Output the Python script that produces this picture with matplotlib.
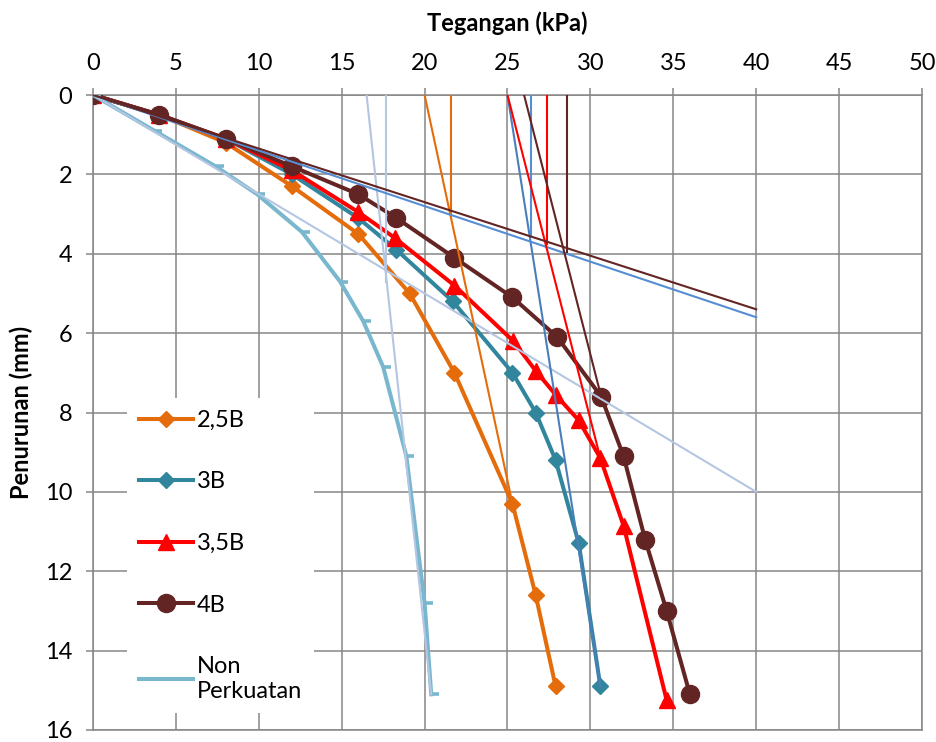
import matplotlib
matplotlib.use("Agg")
import matplotlib.pyplot as plt
from matplotlib.lines import Line2D
from matplotlib.path import Path

plt.rcParams['font.family'] = ['Lato', 'DejaVu Sans']

# tegangan (kPa) vs penurunan (mm)
x_25b = [0, 4, 8, 12, 16, 19.1, 21.8, 25.3, 26.7, 27.9]
y_25b = [0, 0.5, 1.2, 2.3, 3.5, 5.0, 7.0, 10.3, 12.6, 14.9]

x_3b = [0, 4, 8, 12, 16, 18.3, 21.7, 25.3, 26.7, 27.9, 29.3, 30.6]
y_3b = [0, 0.5, 1.1, 2.0, 3.1, 3.9, 5.2, 7.0, 8.0, 9.2, 11.3, 14.9]

x_35b = [0, 4, 8, 12, 16, 18.2, 21.8, 25.35, 26.7, 27.9, 29.3, 30.6, 32.0, 34.6]
y_35b = [0, 0.5, 1.1, 1.9, 2.95, 3.6, 4.8, 6.2, 6.95, 7.55, 8.2, 9.15, 10.85, 15.25]

x_4b = [0, 4, 8, 12, 16, 18.3, 21.8, 25.3, 28.0, 30.65, 32.0, 33.3, 34.6, 36.0]
y_4b = [0, 0.5, 1.1, 1.8, 2.5, 3.1, 4.1, 5.1, 6.1, 7.6, 9.1, 11.2, 13.0, 15.1]

x_non = [0, 3.7, 7.4, 9.9, 12.6, 14.9, 16.3, 17.5, 18.9, 20.0, 20.4]
y_non = [0, 0.9, 1.8, 2.5, 3.45, 4.7, 5.7, 6.85, 9.1, 12.8, 15.1]

# garis singgung (x0, y0, x1, y1)
tangents = [
    ((0, 0, 40, 10), '#b4c6e2'),
    ((16.5, 0, 20.4, 15.1), '#b4c6e2'),
    ((17.7, 0, 17.7, 4.7), '#b4c6e2'),
    ((20.0, 0, 25.3, 10.3), '#e46c0a'),
    ((21.6, 0, 21.6, 3.05), '#e46c0a'),
    ((25.0, 0, 30.6, 14.9), '#4a7ebb'),
    ((26.4, 0, 26.4, 3.55), '#558ed5'),
    ((0, 0, 40, 5.6), '#558ed5'),
    ((25.0, 0, 30.6, 9.15), '#ff0000'),
    ((27.4, 0, 27.4, 3.75), '#ff0000'),
    ((26.0, 0, 30.65, 7.6), '#632523'),
    ((28.6, 0, 28.6, 3.95), '#632523'),
    ((0, 0, 40, 5.4), '#632523'),
]

fs = 17

fig = plt.figure(figsize=(9.37, 7.42), dpi=100)
ax = fig.add_axes([93 / 937, 12 / 742, 829 / 937, 635 / 742])

lw = 2.9
ax.plot(x_25b, y_25b, color='#e46c0a', lw=lw, marker='D', ms=8.5, zorder=3)
ax.plot(x_3b, y_3b, color='#31859c', lw=lw, marker='D', ms=8.5, zorder=3)
ax.plot(x_35b, y_35b, color='#ff0000', lw=lw, marker='^', ms=11.5, zorder=3)
ax.plot(x_4b, y_4b, color='#632523', lw=lw, marker='o', ms=13, zorder=3)

dash = Path([(0, 0), (1, 0)], [Path.MOVETO, Path.LINETO])
ax.plot(x_non, y_non, color='#78b7cd', lw=lw, marker=dash, ms=12,
        mew=2.6, zorder=3)

for (x0, y0, x1, y1), c in tangents:
    ax.plot([x0, x1], [y0, y1], color=c, lw=1.5, zorder=4)

ax.set_xlim(0, 50)
ax.set_ylim(16, 0)
ax.set_xticks(range(0, 51, 5))
ax.set_yticks(range(0, 17, 2))
ax.xaxis.tick_top()
ax.xaxis.set_label_position('top')
ax.grid(True, color='#868686', lw=1.1)
ax.set_axisbelow(True)
for s in ax.spines.values():
    s.set_color('#868686')
    s.set_linewidth(1.1)
ax.tick_params(axis='both', colors='#868686', length=5, width=1.1,
               labelcolor='black', labelsize=fs)
ax.tick_params(axis='x', pad=10)
ax.tick_params(axis='y', pad=10)
ax.set_xlabel('Tegangan (kPa)', fontsize=fs, fontweight='bold', labelpad=16)
ax.set_ylabel('Penurunan (mm)', fontsize=fs, fontweight='bold', labelpad=8)

handles = [
    Line2D([], [], color='#e46c0a', lw=lw, marker='D', ms=8.5),
    Line2D([], [], color='#31859c', lw=lw, marker='D', ms=8.5),
    Line2D([], [], color='#ff0000', lw=lw, marker='^', ms=11.5),
    Line2D([], [], color='#632523', lw=lw, marker='o', ms=13),
    Line2D([], [], color='#78b7cd', lw=lw),
]
labels = ['2,5B', '3B', '3,5B', '4B', 'Non\nPerkuatan']
leg = ax.legend(handles, labels, loc='upper left',
                bbox_to_anchor=(34 / 829, 1 - 303 / 635),
                fontsize=fs, frameon=True, framealpha=1, facecolor='white',
                edgecolor='none', fancybox=False, handlelength=2.3,
                handletextpad=0.15, labelspacing=1.72, borderpad=0.5,
                numpoints=1, borderaxespad=0)
leg.set_zorder(5)

fig.savefig('out.png', dpi=100)
